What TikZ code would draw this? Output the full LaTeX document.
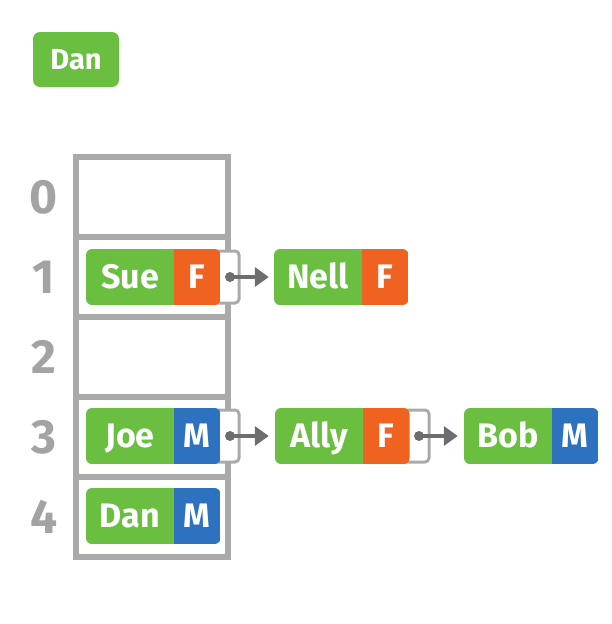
\documentclass[tikz,border=0pt]{standalone}
\usepackage{fontspec}
\setmainfont{Fira Sans}
\usetikzlibrary{arrows.meta}
\definecolor{recgreen}{HTML}{6ABF40}
\definecolor{recorange}{HTML}{F0621F}
\definecolor{recblue}{HTML}{2D72BE}
\definecolor{framegray}{HTML}{AAAAAA}
\definecolor{digitgray}{HTML}{A3A3A3}
\definecolor{arrowgray}{HTML}{6D6D6D}
\tikzset{
  cell/.style={draw=framegray, line width=6pt, minimum width=152pt, minimum height=80pt, inner sep=0pt},
  digit/.style={text=digitgray, font=\fontsize{48}{48}\selectfont\bfseries, inner sep=0pt},
  namebox/.style={fill=recgreen, text=white, minimum width=88pt, minimum height=56pt, inner sep=0pt,
    font=\fontsize{34}{34}\selectfont\bfseries, text height=23.5pt, text depth=0pt},
  sexbox/.style={text=white, minimum width=46.5pt, minimum height=56pt, inner sep=0pt,
    font=\fontsize{34}{34}\selectfont\bfseries, text height=23.5pt, text depth=0pt},
  ptrbox/.style={draw=framegray, fill=white, line width=3pt, rounded corners=4pt, minimum width=30pt, minimum height=52pt, inner sep=0pt},
  ptrdot/.style={circle, fill=arrowgray, minimum size=10pt, inner sep=0pt},
  link/.style={draw=arrowgray, line width=3.5pt, -{Triangle[length=14pt,width=19pt]}},
  keybox/.style={fill=recgreen, text=white, rounded corners=7pt, minimum width=86pt, minimum height=55pt, inner sep=0pt,
    font=\fontsize{29}{29}\selectfont\bfseries, text height=20pt, text depth=0pt}
}
% #1 id, #2 left x, #3 centre y, #4 name, #5 letter, #6 colour
\newcommand\myrecord[6]{%
  \begin{scope}
    \clip[rounded corners=6pt] (#2,#3-28) rectangle (#2+134.5,#3+28);
    \node[namebox] (#1) at (#2+44,#3) {#4};
    \node[sexbox, fill=#6] (#1s) at (#2+111.25,#3) {#5};
  \end{scope}}
\begin{document}
\begin{tikzpicture}[x=1pt,y=-1pt]
\useasboundingbox (0,0) rectangle (612,624);
% key
\node[keybox] (key) at (76,59.5) {Dan};
% table
\foreach \i/\y in {0/197,1/277,2/357,3/437,4/517}{
  \node[cell] (r\i) at (152,\y) {};
  \node[digit] (d\i) at (44,\y) {\i};
}
% pointer cells (drawn behind records)
\node[ptrbox] (sueptr) at (224,277) {};
\node[ptrbox] (joeptr) at (224,436) {};
\node[ptrbox] (allyptr) at (414,436) {};
% records
\myrecord{sue}{86}{277}{Sue}{F}{recorange}
\myrecord{nell}{274}{277}{Nell}{F}{recorange}
\myrecord{joe}{86}{436}{Joe}{M}{recblue}
\myrecord{ally}{275}{436}{Ally}{F}{recorange}
\myrecord{bob}{464}{436}{Bob}{M}{recblue}
\myrecord{dan}{86}{516}{Dan}{M}{recblue}
% links
\node[ptrdot] (suedot) at (230,277) {};
\node[ptrdot] (joedot) at (230,436) {};
\node[ptrdot] (allydot) at (419,436) {};
\draw[link, shorten >=5pt] (suedot.center) -- (nell.west);
\draw[link, shorten >=6pt] (joedot.center) -- (ally.west);
\draw[link, shorten >=6pt] (allydot.center) -- (bob.west);
\end{tikzpicture}
\end{document}
